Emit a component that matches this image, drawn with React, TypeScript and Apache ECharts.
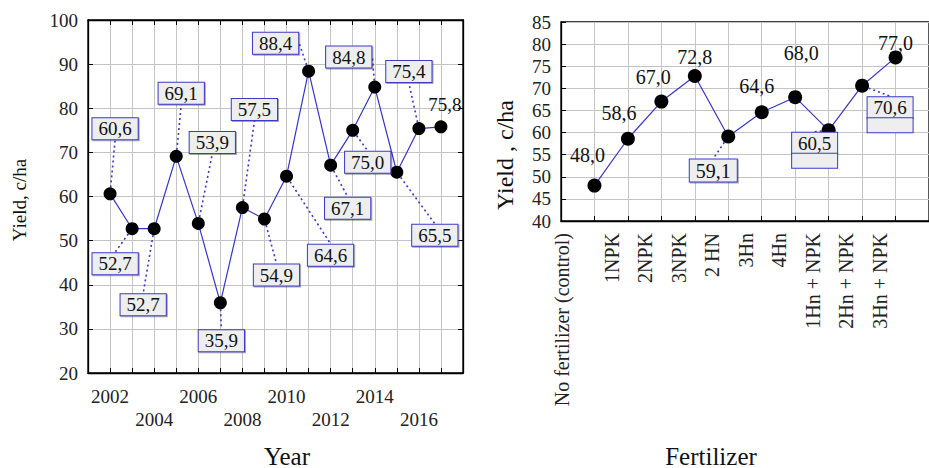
import React, { useEffect, useRef } from 'react';
import * as echarts from 'echarts';

// ---- data ----
const years = [2002, 2003, 2004, 2005, 2006, 2007, 2008, 2009, 2010, 2011, 2012, 2013, 2014, 2015, 2016, 2017];
const yieldByYear = [60.6, 52.7, 52.7, 69.1, 53.9, 35.9, 57.5, 54.9, 64.6, 88.4, 67.1, 75.0, 84.8, 65.5, 75.4, 75.8];
const fertilizers = [
  'No fertilizer (control)', '1NPK', '2NPK', '3NPK', '2 HN', '3Hn', '4Hn',
  '1Hn + NPK', '2Hn + NPK', '3Hn + NPK',
];
const yieldByFertilizer = [48.0, 58.6, 67.0, 72.8, 59.1, 64.6, 68.0, 60.5, 70.6, 77.0];
const yearAxisRange = [2001, 2018];
const leftYRange = [20, 100];
const rightYRange = [40, 85];

// ---- label layout (offsets of label centre from point, px) ----
const leftLabelOffsets = [
  [5, -65], [-17, 35], [-11, 76], [5, -63], [14, -81], [1, 38], [12, -98], [12, 56],
  [44, 79], [-33, -28], [17, 43], [15, 32], [-26, -30], [38, 63], [-10, -57], [4, -22],
];
const leftLabelBoxed = [true, true, true, true, true, true, true, true, true, true, true, true, true, true, true, false];
const rightLabelOffsets = [
  [-7, -31], [-9, -26], [-8, -25], [0, -19], [-15, 34], [-5, -26], [6, -44], [-14, 20], [28, 29], [0, -14],
];
const rightLabelKind = ['plain', 'plain', 'plain', 'plain', 'box', 'plain', 'plain', 'box2', 'box2', 'plain'];
// extra blank lines used to nudge each rotated category label left of its grid line
const rightCategoryNudge = [2, 1, 1, 1, 1, 1, 1, 1, 1, 1];

const FONT = 'Liberation Serif, Times New Roman, serif';
const BLUE_LINE = '#3535c8';
const BOX_BORDER = '#3a3ac4';
const BOX_FILL = '#eeeeee';
const GRID_COLOR = '#c4c4c4';

const fmt = (v: number) => v.toFixed(1).replace('.', ',');

export default function App() {
  const ref = useRef<HTMLDivElement>(null);

  useEffect(() => {
    document.body.style.margin = '0';
    if (!ref.current) return;
    const chart = echarts.init(ref.current, null, { renderer: 'svg' });

    const boxLabel = {
      backgroundColor: BOX_FILL,
      borderColor: BOX_BORDER,
      borderWidth: 1,
      padding: [2, 6, 0, 6],
      shadowColor: 'rgba(0,0,0,0.35)',
      shadowOffsetX: 1,
      shadowOffsetY: 1,
      shadowBlur: 0,
    };

    const leftData = years.map((y, i) => {
      const item: any = { value: [y, yieldByYear[i]] };
      if (!leftLabelBoxed[i]) {
        item.label = { backgroundColor: 'transparent', borderWidth: 0, shadowColor: 'transparent', padding: 0 };
        item.labelLine = { show: false };
      }
      return item;
    });

    const rightData = yieldByFertilizer.map((v, i) => {
      const item: any = { value: [i + 1, v] };
      const kind = rightLabelKind[i];
      if (kind === 'box') {
        item.label = { ...boxLabel };
        item.labelLine = { show: true };
      } else if (kind === 'box2') {
        item.label = {
          formatter: (p: any) => `{t|${fmt(p.value[1])}}\n{e| }`,
          rich: {
            t: {
              width: 45, height: 21, align: 'center', fontSize: 19, fontFamily: FONT, color: '#111',
              backgroundColor: BOX_FILL, borderColor: BOX_BORDER, borderWidth: 1,
            },
            e: {
              width: 45, height: 14, backgroundColor: BOX_FILL, borderColor: BOX_BORDER, borderWidth: 1,
            },
          },
        };
        item.labelLine = { show: true };
      }
      return item;
    });

    const axisLine = { show: true, lineStyle: { color: '#000', width: 1.3 } };
    const axisTick = { show: true, inside: true, length: 5, lineStyle: { color: '#000' } };
    const splitLine = { show: true, lineStyle: { color: GRID_COLOR, width: 1 } };

    const option: any = {
      animation: false,
      textStyle: { fontFamily: FONT },
      grid: [
        { left: 88, top: 20, width: 375, height: 353, show: true, borderColor: '#000', borderWidth: 1.3, backgroundColor: '#fff' },
        { left: 561, top: 22, width: 375, height: 199, show: true, borderColor: '#000', borderWidth: 1.3, backgroundColor: '#fff' },
      ],
      xAxis: [
        {
          type: 'value', gridIndex: 0, min: yearAxisRange[0], max: yearAxisRange[1], interval: 1,
          axisLine, axisTick, splitLine,
          axisLabel: {
            margin: 12, fontSize: 19, fontFamily: FONT, color: '#222', lineHeight: 23,
            formatter: (v: number) => {
              if (v < years[0] || v > years[years.length - 1] - 1) return '';
              if ((v - 2002) % 4 === 0) return String(v);
              if ((v - 2004) % 4 === 0) return '\n' + v;
              return '';
            },
          },
        },
        {
          type: 'value', gridIndex: 0, position: 'top', min: yearAxisRange[0], max: yearAxisRange[1], interval: 1,
          axisLine, axisTick, splitLine: { show: false }, axisLabel: { show: false },
        },
        {
          type: 'value', gridIndex: 1, min: 0, max: 11, interval: 1,
          axisLine, axisTick, splitLine,
          axisLabel: {
            rotate: 90, margin: 12, fontSize: 20, fontFamily: FONT, color: '#222', lineHeight: 32,
            formatter: (v: number) => {
              const name = fertilizers[v - 1];
              if (!name) return '';
              return name + '\n'.repeat(rightCategoryNudge[v - 1]);
            },
          },
        },
      ],
      yAxis: [
        {
          type: 'value', gridIndex: 0, min: leftYRange[0], max: leftYRange[1], interval: 10,
          axisLine, axisTick, splitLine,
          axisLabel: { margin: 10, fontSize: 19, fontFamily: FONT, color: '#222' },
        },
        {
          type: 'value', gridIndex: 0, position: 'right', min: leftYRange[0], max: leftYRange[1], interval: 10,
          axisLine, axisTick, splitLine: { show: false }, axisLabel: { show: false },
        },
        {
          type: 'value', gridIndex: 1, min: rightYRange[0], max: rightYRange[1], interval: 5,
          axisLine, axisTick, splitLine,
          axisLabel: { margin: 10, fontSize: 19, fontFamily: FONT, color: '#222' },
        },
      ],
      series: [
        {
          type: 'line', xAxisIndex: 0, yAxisIndex: 0,
          data: leftData,
          symbol: 'circle', symbolSize: 13,
          itemStyle: { color: '#000' },
          lineStyle: { color: BLUE_LINE, width: 1.2 },
          label: {
            show: true, position: 'inside', fontSize: 19, fontFamily: FONT, color: '#111',
            formatter: (p: any) => fmt(p.value[1]),
            ...boxLabel,
          },
          labelLine: { show: true, lineStyle: { color: BOX_BORDER, type: [2, 3], width: 1.6 } },
          labelLayout: (p: any) => ({ dx: leftLabelOffsets[p.dataIndex][0], dy: leftLabelOffsets[p.dataIndex][1] }),
          z: 3,
        },
        {
          type: 'line', xAxisIndex: 2, yAxisIndex: 2,
          data: rightData,
          symbol: 'circle', symbolSize: 14,
          itemStyle: { color: '#000' },
          lineStyle: { color: BLUE_LINE, width: 1.2 },
          label: {
            show: true, position: 'inside', fontSize: 20, fontFamily: FONT, color: '#111',
            formatter: (p: any) => fmt(p.value[1]),
          },
          labelLine: { show: false, lineStyle: { color: BOX_BORDER, type: [2, 3], width: 1.6 } },
          labelLayout: (p: any) => ({ dx: rightLabelOffsets[p.dataIndex][0], dy: rightLabelOffsets[p.dataIndex][1] }),
          z: 3,
        },
      ],
      graphic: [
        { type: 'text', x: 287, y: 456, style: { text: 'Year', fontSize: 25, fontFamily: FONT, fill: '#111', textAlign: 'center', textVerticalAlign: 'middle' } },
        { type: 'text', x: 711, y: 456, style: { text: 'Fertilizer', fontSize: 25, fontFamily: FONT, fill: '#111', textAlign: 'center', textVerticalAlign: 'middle' } },
        { type: 'text', x: 19, y: 200, rotation: Math.PI / 2, style: { text: 'Yield, c/ha', fontSize: 19, fontFamily: FONT, fill: '#111', textAlign: 'center', textVerticalAlign: 'middle' } },
        { type: 'text', x: 505, y: 155, rotation: Math.PI / 2, style: { text: 'Yield , c/ha', fontSize: 24, fontFamily: FONT, fill: '#111', textAlign: 'center', textVerticalAlign: 'middle' } },
      ],
    };

    chart.setOption(option);
    return () => chart.dispose();
  }, []);

  return <div ref={ref} style={{ width: 929, height: 468 }} />;
}
